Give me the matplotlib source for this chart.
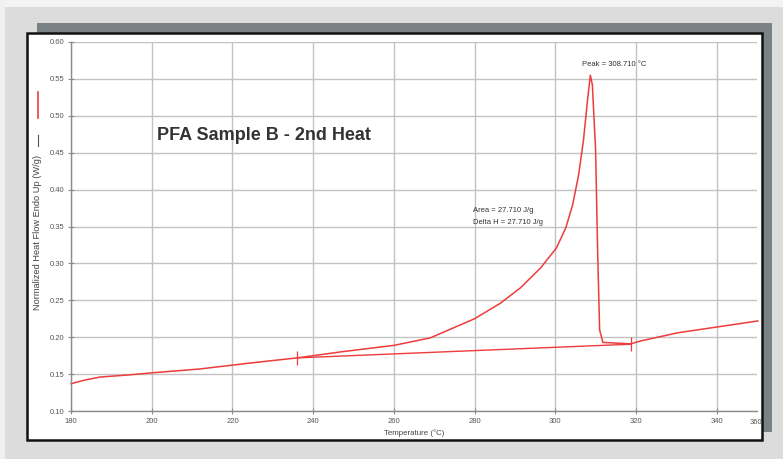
import matplotlib
matplotlib.use("Agg")
import matplotlib.pyplot as plt
from matplotlib.patches import Rectangle
from matplotlib.lines import Line2D

plt.rcParams['font.family'] = ['Liberation Sans', 'DejaVu Sans']

# ---- data ----
temperature = [180.0, 183.5, 187.2, 194.6, 199.6, 212.0, 224.4, 236.1, 246.7, 260.1,
               269.0, 280.0, 286.4, 291.4, 296.4, 300.3, 302.6, 304.3, 305.8, 307.0,
               308.0, 308.7, 309.2, 310.0, 310.5, 311.0, 311.8, 315.0, 318.7, 321.2,
               330.4, 340.3, 350.2]
heat_flow = [0.137, 0.142, 0.146, 0.149, 0.1515, 0.157, 0.165, 0.172, 0.180, 0.189,
             0.199, 0.225, 0.246, 0.267, 0.294, 0.321, 0.348, 0.379, 0.420, 0.467,
             0.521, 0.555, 0.542, 0.454, 0.318, 0.210, 0.193, 0.192, 0.191, 0.195,
             0.206, 0.214, 0.222]
baseline_T = [236.1, 318.7]
baseline_HF = [0.172, 0.1905]
x_ticks = [180, 200, 220, 240, 260, 280, 300, 320, 340]
y_ticks = [0.10, 0.15, 0.20, 0.25, 0.30, 0.35, 0.40, 0.45, 0.50, 0.55, 0.60]
title = "PFA Sample B - 2nd Heat"
peak_label = "Peak = 308.710 °C"
area_label = "Area = 27.710 J/g"
delta_label = "Delta H = 27.710 J/g"

W, H = 783, 459
RED = '#ee3b3b'
GRAY = '#8a8a8a'

def fx(px):
    return px / W

def fy(py):
    return (H - py) / H

fig = plt.figure(figsize=(W / 100, H / 100), dpi=100)
fig.patch.set_facecolor('#dcdcdc')

# window frame decorations
fig.patches.append(Rectangle((0, fy(7)), 1, 7 / H, transform=fig.transFigure,
                             facecolor='#f3f3f3', edgecolor='none', zorder=-5))
fig.patches.append(Rectangle((0, 0), fx(5), 1, transform=fig.transFigure,
                             facecolor='#f0f0f0', edgecolor='none', zorder=-5))
fig.patches.append(Rectangle((fx(37), fy(432)), 735 / W, 409 / H, transform=fig.transFigure,
                             facecolor='#7b8285', edgecolor='none', zorder=-4))
fig.patches.append(Rectangle((fx(27), fy(440)), 735 / W, 407 / H, transform=fig.transFigure,
                             facecolor='white', edgecolor='#111111', linewidth=1.8, zorder=-3))

ax = fig.add_axes([fx(71), fy(411), 686 / W, 369 / H])
ax.set_facecolor('none')
ax.set_xlim(180, 350)
ax.set_ylim(0.10, 0.60)
ax.set_xticks(x_ticks)
ax.set_xticklabels([str(t) for t in x_ticks])
ax.set_yticks(y_ticks)
ax.set_yticklabels([f"{v:.2f}" for v in y_ticks])
ax.grid(True, color='#c2c2c2', linewidth=1.0)
ax.set_axisbelow(True)
for s in ('top', 'right'):
    ax.spines[s].set_visible(False)
for s in ('left', 'bottom'):
    ax.spines[s].set_color(GRAY)
    ax.spines[s].set_linewidth(1.0)
ax.tick_params(direction='inout', length=5, width=0.8, color=GRAY,
               labelsize=5.5, labelcolor='#555555', pad=2.5)

ax.plot(temperature, heat_flow, color=RED, linewidth=1.1, clip_on=False)
ax.plot(baseline_T, baseline_HF, color=RED, linewidth=1.0)
ax.plot(baseline_T, baseline_HF, linestyle='none', marker='|', markersize=10,
        markeredgewidth=0.9, color=RED)

# texts
fig.text(fx(157), fy(135), title, fontsize=13, fontweight='bold', color='#333333',
         ha='left', va='center')
fig.text(fx(582), fy(64), peak_label, fontsize=5.5, color='#333333', ha='left', va='center')
fig.text(fx(473), fy(211), area_label, fontsize=5.5, color='#333333', ha='left', va='center')
fig.text(fx(473), fy(223), delta_label, fontsize=5.5, color='#333333', ha='left', va='center')
fig.text(fx(414), fy(433), "Temperature (°C)", fontsize=5.7, color='#444444',
         ha='center', va='center')
fig.text(fx(756), fy(422), "360", fontsize=5.5, color='#555555', ha='center', va='center')
fig.text(fx(38), fy(233), "Normalized Heat Flow Endo Up (W/g)", fontsize=6.7,
         color='#444444', rotation=90, ha='center', va='center')
fig.lines.append(Line2D([fx(38), fx(38)], [fy(135), fy(146)], transform=fig.transFigure,
                        color='#555555', linewidth=0.8))
fig.lines.append(Line2D([fx(38), fx(38)], [fy(92), fy(118)], transform=fig.transFigure,
                        color=RED, linewidth=1.2))

fig.savefig("out.png", dpi=100, facecolor=fig.get_facecolor())
